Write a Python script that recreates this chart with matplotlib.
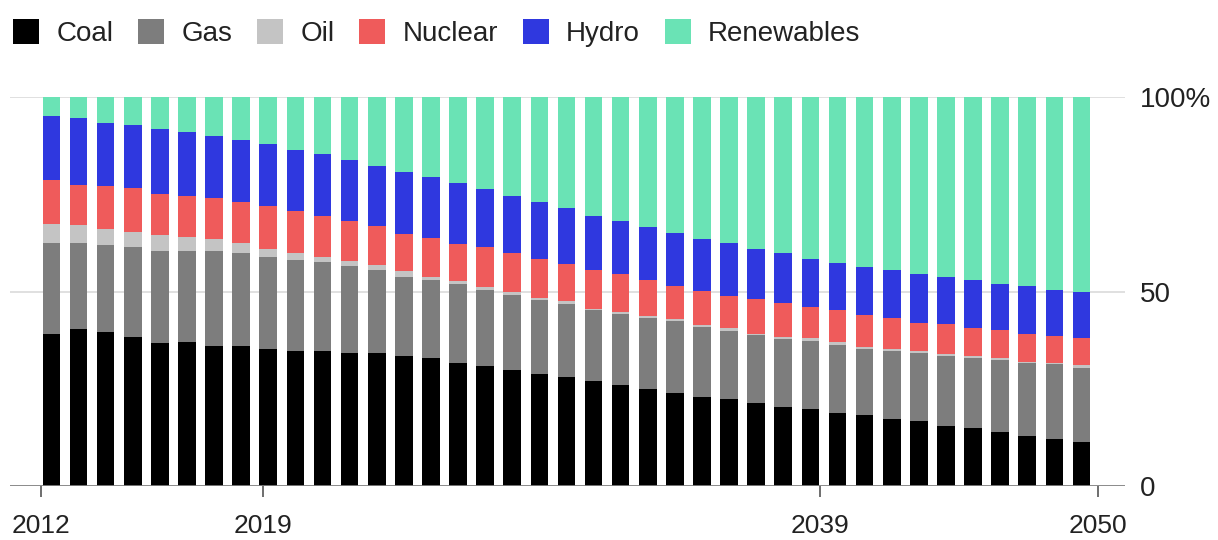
import numpy as np
import matplotlib.pyplot as plt
from matplotlib.patches import Patch

plt.rcParams['font.family'] = ['Liberation Sans', 'DejaVu Sans']

# share of power generation by source, percent, 2012-2050
years = list(range(2012, 2051))
coal = [39.1, 40.3, 39.7, 38.2, 36.7, 37.1, 36.1, 36.1, 35.2, 34.6,
        34.6, 34.1, 34.1, 33.3, 32.8, 31.7, 30.9, 29.9, 28.8, 27.9,
        26.9, 25.9, 24.9, 23.9, 22.9, 22.4, 21.3, 20.3, 19.8, 18.8,
        18.3, 17.2, 16.8, 15.4, 14.8, 13.8, 12.8, 12.2, 11.3]
gas = [23.4, 22.2, 22.3, 23.2, 23.7, 23.3, 24.3, 23.8, 23.7, 23.4,
       22.9, 22.4, 21.4, 20.5, 20.1, 20.2, 19.4, 19.3, 19.0, 18.9,
       18.3, 18.2, 18.2, 18.5, 17.9, 17.5, 17.4, 17.4, 17.5, 17.5,
       16.9, 17.4, 17.5, 18.1, 18.0, 18.5, 18.8, 19.1, 19.0]
oil = [4.9, 4.5, 4.0, 3.9, 4.0, 3.6, 3.1, 2.6, 1.9, 1.9,
       1.4, 1.3, 1.2, 1.4, 0.9, 0.7, 0.9, 0.7, 0.6, 0.7,
       0.4, 0.7, 0.6, 0.5, 0.6, 0.6, 0.5, 0.7, 0.7, 0.6,
       0.6, 0.6, 0.5, 0.5, 0.6, 0.5, 0.4, 0.4, 0.8]
nuclear = [11.3, 10.5, 11.0, 11.2, 10.7, 10.5, 10.6, 10.5, 11.2, 10.7,
           10.6, 10.2, 10.2, 9.6, 10.0, 9.7, 10.2, 10.0, 9.9, 9.5,
           9.9, 9.6, 9.2, 8.5, 8.7, 8.3, 8.9, 8.7, 7.9, 8.3,
           8.1, 7.9, 7.2, 7.6, 7.1, 7.3, 7.1, 6.9, 7.0]
hydro = [16.4, 17.0, 16.4, 16.4, 16.8, 16.5, 15.9, 16.0, 15.9, 15.8,
         15.8, 15.8, 15.4, 16.0, 15.6, 15.6, 15.0, 14.6, 14.7, 14.5,
         14.0, 13.6, 13.7, 13.6, 13.5, 13.7, 12.9, 12.8, 12.5, 12.2,
         12.4, 12.4, 12.4, 12.2, 12.4, 11.9, 12.3, 11.7, 11.8]
renewables = [4.9, 5.5, 6.6, 7.1, 8.1, 9.0, 10.0, 11.0, 12.1, 13.6,
              14.7, 16.2, 17.7, 19.2, 20.6, 22.1, 23.6, 25.5, 27.0, 28.5,
              30.5, 32.0, 33.4, 35.0, 36.4, 37.5, 39.0, 40.1, 41.6, 42.6,
              43.7, 44.5, 45.6, 46.2, 47.1, 48.0, 48.6, 49.7, 50.1]

sources = ['Coal', 'Gas', 'Oil', 'Nuclear', 'Hydro', 'Renewables']
colors = ['#000000', '#7d7d7d', '#c4c4c4', '#ef5b5b', '#2f38df', '#6ae3b5']
tick_years = [2012, 2020, 2040, 2050]
tick_labels = ['2012', '2019', '2039', '2050']

series = [coal, gas, oil, nuclear, hydro, renewables]

fig = plt.figure(figsize=(12.18, 5.4), dpi=100)
ax = fig.add_axes([10 / 1218, 54 / 540, 1115 / 1218, 389 / 540])

# bars fill the span from the first to the last year
slot = (years[-1] - years[0]) / len(years)
x = years[0] + (np.arange(len(years)) + 0.4) * slot

bottom = np.zeros(len(years))
for name, vals, col in zip(sources, series, colors):
    vals = np.array(vals)
    ax.bar(x, vals, width=slot * 0.65, bottom=bottom, color=col,
           linewidth=0, zorder=3)
    bottom += vals

ax.set_xlim(years[0] - 1.1, years[-1] + 0.98)
ax.set_ylim(0, 100)

for y in [50, 100]:
    ax.axhline(y, color='#dadada', linewidth=1.2, zorder=1)
ax.axhline(0, color='#808080', linewidth=2, zorder=4)

for s in ax.spines.values():
    s.set_visible(False)

ax.set_xticks(tick_years)
ax.set_xticklabels(tick_labels)
ax.tick_params(axis='x', length=8, width=1.2, color='#555555', pad=12,
               labelsize=19, labelcolor='#222222')

ax.yaxis.tick_right()
ax.set_yticks([0, 50, 100])
ax.set_yticklabels(['0', '50', '100%'])
ax.tick_params(axis='y', length=0, pad=11, labelsize=20, labelcolor='#222222')

handles = [Patch(facecolor=c, edgecolor='none') for c in colors]
fig.legend(handles, sources, loc='upper left', bbox_to_anchor=(-1 / 1218, 1 - 5 / 540),
           ncol=6, frameon=False, fontsize=20, borderpad=0, handlelength=0.95,
           handleheight=1.0, handletextpad=0.62, columnspacing=0.88,
           labelcolor='#222222')

fig.savefig('out.png', dpi=100)
